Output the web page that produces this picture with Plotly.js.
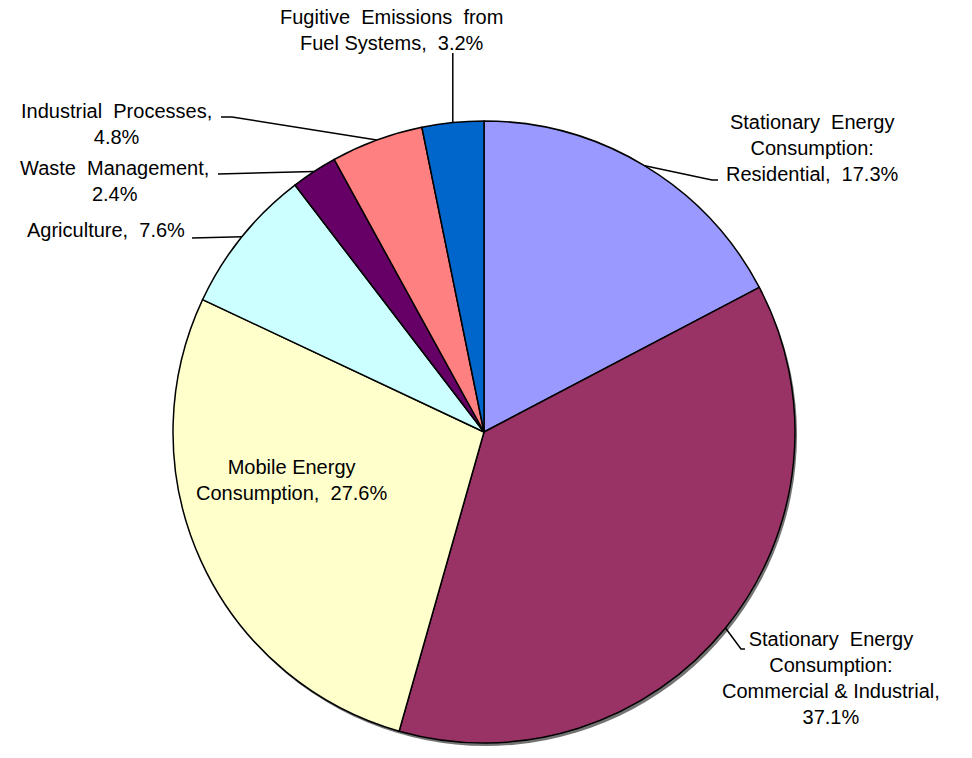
<!DOCTYPE html>
<html>
<head>
<meta charset="utf-8">
<script src="https://cdn.plot.ly/plotly-3.0.1.min.js"></script>
<style>html,body{margin:0;padding:0;background:#fff;}#chart{width:972px;height:758px;}</style>
</head>
<body>
<div id="chart"></div>
<script>
// ---- data ----
const categories = [
  "Stationary Energy Consumption: Residential",
  "Stationary Energy Consumption: Commercial & Industrial",
  "Mobile Energy Consumption",
  "Agriculture",
  "Waste Management",
  "Industrial Processes",
  "Fugitive Emissions from Fuel Systems"
];
const values = [17.3, 37.1, 27.6, 7.6, 2.4, 4.8, 3.2];
const labelTexts = [
  "Stationary  Energy<br>Consumption:<br>Residential,  17.3%",
  "Stationary  Energy<br>Consumption:<br>Commercial & Industrial,<br>37.1%",
  "Mobile Energy<br>Consumption,  27.6%",
  "Agriculture,  7.6%",
  "Waste  Management,<br>2.4%",
  "Industrial  Processes,<br>4.8%",
  "Fugitive  Emissions  from<br>Fuel Systems,  3.2%"
];
const colors = ["#9999FF", "#993366", "#FFFFCC", "#CCFFFF", "#660066", "#FF8080", "#0066CC"];

// ---- layout geometry (pixels) ----
const W = 972, H = 758;
const CX = 484, CY = 432, R = 311;
// label centres (pixels)
const labelPos = [[812, 148], [831, 678], [291, 480], [106, 230], [114, 181], [116, 124], [391, 30]];
// leader line elbows (pixels): points from label side toward slice
const leaderStart = [
  [[718, 180], [712, 180]],
  [[745, 649], [741, 649]],
  null,
  [[192, 238]],
  [[218, 174]],
  [[221, 117], [232, 117]],
  "vertical"
];

const px = x => x / W;
const py = y => 1 - y / H;

const total = values.reduce((a, b) => a + b, 0);
let cum = 0;
const anchors = values.map(v => {
  const mid = (cum + v / 2) / total;
  cum += v;
  const ang = mid * 2 * Math.PI;
  return [CX + R * Math.sin(ang), CY - R * Math.cos(ang)];
});

const shapes = [];
const annotations = [];
labelTexts.forEach((t, i) => {
  annotations.push({
    xref: "paper", yref: "paper",
    x: px(labelPos[i][0]), y: py(labelPos[i][1]),
    xanchor: "center", yanchor: "middle",
    text: t, showarrow: false, align: "center",
    font: {family: "Liberation Sans, Arial, sans-serif", size: 20, color: "#000"}
  });
  const ls = leaderStart[i];
  if (!ls) return;
  let pts;
  if (ls === "vertical") pts = [[anchors[i][0], 53], anchors[i]];
  else pts = ls.concat([anchors[i]]);
  const path = pts.map((p, k) => (k ? "L" : "M") + px(p[0]) + "," + py(p[1])).join(" ");
  shapes.push({type: "path", xref: "paper", yref: "paper", path: path,
    line: {color: "#000", width: 1.5}});
});

// subtle shadow under the pie
shapes.push({type: "circle", xref: "paper", yref: "paper", layer: "below",
  x0: px(CX - R + 2), x1: px(CX + R + 2), y0: py(CY + R + 3), y1: py(CY - R + 3),
  fillcolor: "rgba(0,0,0,0.55)", line: {width: 0}});

const trace = {
  type: "pie",
  labels: categories,
  values: values,
  sort: false,
  direction: "clockwise",
  rotation: 0,
  textinfo: "none",
  hoverinfo: "label+percent",
  marker: {colors: colors, line: {color: "#000", width: 1.5}},
  domain: {x: [px(CX - R), px(CX + R)], y: [py(CY + R), py(CY - R)]},
  showlegend: false
};

Plotly.newPlot("chart", [trace], {
  width: W, height: H,
  margin: {l: 0, r: 0, t: 0, b: 0},
  paper_bgcolor: "#fff",
  showlegend: false,
  shapes: shapes,
  annotations: annotations
}, {displayModeBar: false, staticPlot: true});
</script>
</body>
</html>
